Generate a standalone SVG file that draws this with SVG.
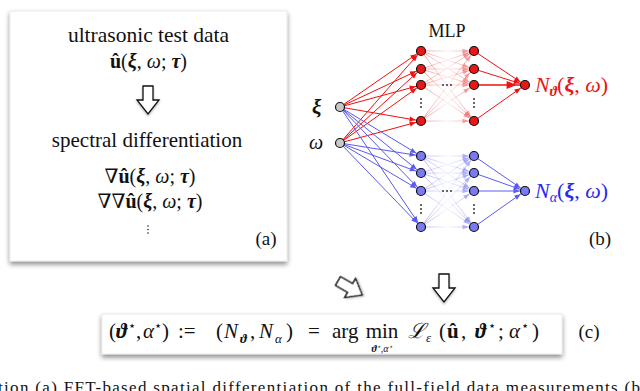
<svg xmlns="http://www.w3.org/2000/svg" width="640" height="391" viewBox="0 0 640 391">
<style>
.t{font-family:"Liberation Serif","DejaVu Serif",serif;fill:#111}
.m{font-family:"Liberation Serif","DejaVu Serif",serif;fill:#111}
.b{font-weight:bold}
.i{font-style:italic}
.bi{font-weight:bold;font-style:italic}
.er{stroke:#ee1111;stroke-width:1;fill:none}
.eb{stroke:#5a5af0;stroke-width:1;fill:none}
.fr{stroke:url(#gr);stroke-width:1;fill:none}
.fb{stroke:url(#gb);stroke-width:1;fill:none}
.nr{fill:#e81818;stroke:#111;stroke-width:1.2}
.nb{fill:#7a7af2;stroke:#111;stroke-width:1.2}
.ng{fill:#c8c8c8;stroke:#111;stroke-width:1.2}
.dot{fill:#222}
.blk{fill:#fff;stroke:#111;stroke-width:1.3;stroke-linejoin:miter}
</style>
<defs>
<filter id="sh" x="-10%" y="-10%" width="120%" height="130%">
<feDropShadow dx="0" dy="3" stdDeviation="2.5" flood-color="#000" flood-opacity="0.45"/>
</filter>
<filter id="ash" x="-30%" y="-30%" width="160%" height="160%">
<feDropShadow dx="0" dy="1.5" stdDeviation="1" flood-color="#000" flood-opacity="0.3"/>
</filter>
<marker id="ar" markerWidth="6" markerHeight="5" refX="11.5" refY="2.5" orient="auto" overflow="visible">
<path d="M0,0 L6,2.5 L0,5 Z" fill="#ee1111"/>
</marker>
<marker id="ab" markerWidth="6" markerHeight="5" refX="11.5" refY="2.5" orient="auto" overflow="visible">
<path d="M0,0 L6,2.5 L0,5 Z" fill="#5a5af0"/>
</marker>
<marker id="afr" markerWidth="6" markerHeight="5" refX="11.5" refY="2.5" orient="auto" overflow="visible">
<path d="M0,0 L6,2.5 L0,5 Z" fill="#f07070" fill-opacity="0.6"/>
</marker>
<marker id="afb" markerWidth="6" markerHeight="5" refX="11.5" refY="2.5" orient="auto" overflow="visible">
<path d="M0,0 L6,2.5 L0,5 Z" fill="#8a8af5" fill-opacity="0.6"/>
</marker>
<linearGradient id="gr" gradientUnits="userSpaceOnUse" x1="421" y1="0" x2="474" y2="0">
<stop offset="0" stop-color="#f04040" stop-opacity="0.55"/>
<stop offset="0.5" stop-color="#f04040" stop-opacity="0.08"/>
<stop offset="1" stop-color="#f04040" stop-opacity="0.55"/>
</linearGradient>
<linearGradient id="gb" gradientUnits="userSpaceOnUse" x1="421" y1="0" x2="474" y2="0">
<stop offset="0" stop-color="#6a6af2" stop-opacity="0.5"/>
<stop offset="0.5" stop-color="#6a6af2" stop-opacity="0.06"/>
<stop offset="1" stop-color="#6a6af2" stop-opacity="0.5"/>
</linearGradient>
<path id="barrow" d="M-5,0 L5,0 L5,14 L11,14 L0,28 L-11,14 L-5,14 Z"/>
</defs>
<rect width="640" height="391" fill="#fff"/>

<!-- Panel (a) -->
<g id="panel-a">
<rect x="10" y="11" width="277" height="250" fill="#fff" stroke="#e6e6e6" stroke-width="0.8" filter="url(#sh)"/>
<text class="t" x="148.5" y="42" font-size="21.5" text-anchor="middle">ultrasonic test data</text>
<text class="m" x="148.5" y="68" font-size="20" text-anchor="middle"><tspan class="b">û</tspan>(<tspan class="bi">ξ</tspan>, <tspan class="i">ω</tspan>; <tspan class="bi">τ</tspan>)</text>
<use href="#barrow" class="blk" transform="translate(148,86)" filter="url(#ash)"/>
<text class="t" x="147" y="147" font-size="21" text-anchor="middle">spectral differentiation</text>
<text class="m" x="150" y="183" font-size="20" text-anchor="middle">∇<tspan class="b">û</tspan>(<tspan class="bi">ξ</tspan>, <tspan class="i">ω</tspan>; <tspan class="bi">τ</tspan>)</text>
<text class="m" x="150" y="208" font-size="20" text-anchor="middle">∇∇<tspan class="b">û</tspan>(<tspan class="bi">ξ</tspan>, <tspan class="i">ω</tspan>; <tspan class="bi">τ</tspan>)</text>
<circle class="dot" cx="148" cy="226" r="0.8"/>
<circle class="dot" cx="148" cy="229.5" r="0.8"/>
<circle class="dot" cx="148" cy="233" r="0.8"/>
<text class="t" x="266" y="245" font-size="19" text-anchor="middle">(a)</text>
</g>

<!-- Panel (b) -->
<text class="t" x="447" y="37" font-size="18" text-anchor="middle">MLP</text>
<text class="m bi" x="312" y="114" font-size="21">ξ</text>
<text class="m i" x="309" y="149" font-size="20">ω</text>

<g id="connectors">
<g class="er" marker-end="url(#ar)">
<path d="M340,107 L421,51"/><path d="M340,107 L421,69"/><path d="M340,107 L421,85"/><path d="M340,107 L421,121"/>
<path d="M340,143 L421,51"/><path d="M340,143 L421,69"/><path d="M340,143 L421,85"/><path d="M340,143 L421,121"/>
</g>
<g class="eb" marker-end="url(#ab)">
<path d="M340,107 L421,156"/><path d="M340,107 L421,173"/><path d="M340,107 L421,191"/><path d="M340,107 L421,227"/>
<path d="M340,143 L421,156"/><path d="M340,143 L421,173"/><path d="M340,143 L421,191"/><path d="M340,143 L421,227"/>
</g>
<g class="fr" marker-end="url(#afr)">
<path d="M421,51 L474,51"/><path d="M421,51 L474,69"/><path d="M421,51 L474,85"/><path d="M421,51 L474,121"/>
<path d="M421,69 L474,51"/><path d="M421,69 L474,69"/><path d="M421,69 L474,85"/><path d="M421,69 L474,121"/>
<path d="M421,85 L474,51"/><path d="M421,85 L474,69"/><path d="M421,85 L474,85"/><path d="M421,85 L474,121"/>
<path d="M421,121 L474,51"/><path d="M421,121 L474,69"/><path d="M421,121 L474,85"/><path d="M421,121 L474,121"/>
</g>
<g class="fb" marker-end="url(#afb)">
<path d="M421,156 L474,156"/><path d="M421,156 L474,173"/><path d="M421,156 L474,191"/><path d="M421,156 L474,227"/>
<path d="M421,173 L474,156"/><path d="M421,173 L474,173"/><path d="M421,173 L474,191"/><path d="M421,173 L474,227"/>
<path d="M421,191 L474,156"/><path d="M421,191 L474,173"/><path d="M421,191 L474,191"/><path d="M421,191 L474,227"/>
<path d="M421,227 L474,156"/><path d="M421,227 L474,173"/><path d="M421,227 L474,191"/><path d="M421,227 L474,227"/>
</g>
<g class="er" marker-end="url(#ar)">
<path d="M474,51 L525,85"/><path d="M474,69 L525,85"/><path d="M474,85 L525,85" stroke-width="1.6"/><path d="M474,121 L525,85"/>
</g>
<g class="eb" marker-end="url(#ab)">
<path d="M474,156 L525,191"/><path d="M474,173 L525,191"/><path d="M474,191 L525,191"/><path d="M474,227 L525,191"/>
</g>
</g>

<g id="input-xi"><circle class="ng" cx="340" cy="107" r="4.5"/></g>
<g id="input-omega"><circle class="ng" cx="340" cy="143" r="4.5"/></g>

<g id="red-layer1">
<circle class="nr" cx="421" cy="51" r="4.5"/><circle class="nr" cx="421" cy="69" r="4.5"/>
<circle class="nr" cx="421" cy="85" r="4.5"/><circle class="nr" cx="421" cy="121" r="4.5"/>
<circle class="dot" cx="421" cy="99" r="0.9"/><circle class="dot" cx="421" cy="103" r="0.9"/><circle class="dot" cx="421" cy="107" r="0.9"/>
</g>
<g id="red-layer2">
<circle class="nr" cx="474" cy="51" r="4.5"/><circle class="nr" cx="474" cy="69" r="4.5"/>
<circle class="nr" cx="474" cy="85" r="4.5"/><circle class="nr" cx="474" cy="121" r="4.5"/>
<circle class="dot" cx="474" cy="99" r="0.9"/><circle class="dot" cx="474" cy="103" r="0.9"/><circle class="dot" cx="474" cy="107" r="0.9"/>
</g>
<g id="red-dots">
<circle class="dot" cx="443" cy="85" r="0.9"/><circle class="dot" cx="447" cy="85" r="0.9"/><circle class="dot" cx="451" cy="85" r="0.9"/>
</g>
<g id="red-output">
<circle class="nr" cx="525" cy="85" r="4.5"/>
<text class="m" x="535" y="92" font-size="22" style="fill:#e81818"><tspan class="i">N</tspan><tspan class="bi" font-size="14" dy="4">ϑ</tspan><tspan dy="-4">(</tspan><tspan class="bi">ξ</tspan>, <tspan class="i">ω</tspan>)</text>
</g>

<g id="blue-layer1">
<circle class="nb" cx="421" cy="156" r="4.5"/><circle class="nb" cx="421" cy="173" r="4.5"/>
<circle class="nb" cx="421" cy="191" r="4.5"/><circle class="nb" cx="421" cy="227" r="4.5"/>
<circle class="dot" cx="421" cy="205" r="0.9"/><circle class="dot" cx="421" cy="209" r="0.9"/><circle class="dot" cx="421" cy="213" r="0.9"/>
</g>
<g id="blue-layer2">
<circle class="nb" cx="474" cy="156" r="4.5"/><circle class="nb" cx="474" cy="173" r="4.5"/>
<circle class="nb" cx="474" cy="191" r="4.5"/><circle class="nb" cx="474" cy="227" r="4.5"/>
<circle class="dot" cx="474" cy="205" r="0.9"/><circle class="dot" cx="474" cy="209" r="0.9"/><circle class="dot" cx="474" cy="213" r="0.9"/>
</g>
<g id="blue-dots">
<circle class="dot" cx="443" cy="191" r="0.9"/><circle class="dot" cx="447" cy="191" r="0.9"/><circle class="dot" cx="451" cy="191" r="0.9"/>
</g>
<g id="blue-output">
<circle class="nb" cx="525" cy="191" r="4.5"/>
<text class="m" x="535" y="198" font-size="22" style="fill:#2a2af0"><tspan class="i">N</tspan><tspan class="i" font-size="14" dy="4">α</tspan><tspan dy="-4">(</tspan><tspan class="bi">ξ</tspan>, <tspan class="i">ω</tspan>)</text>
</g>
<text class="t" x="600" y="245" font-size="19" text-anchor="middle">(b)</text>

<!-- arrows to (c) -->
<use href="#barrow" class="blk" transform="translate(338,281) rotate(-60)" filter="url(#ash)"/>
<use href="#barrow" class="blk" transform="translate(444,274)" filter="url(#ash)"/>

<!-- Panel (c) -->
<g id="panel-c">
<rect x="102" y="314" width="460" height="40" fill="#fff" stroke="#e6e6e6" stroke-width="0.8" filter="url(#sh)"/>
<text class="m" y="338" font-size="21"><tspan x="109">(</tspan><tspan class="bi" x="116">ϑ</tspan><tspan font-size="13" x="128" dy="-8">⋆</tspan><tspan x="136" dy="8">,</tspan><tspan class="i" x="143">α</tspan><tspan font-size="13" x="154" dy="-8">⋆</tspan><tspan x="162" dy="8">)</tspan></text>
<text class="m" x="178" y="338" font-size="21">:=</text>
<text class="m" y="338" font-size="21"><tspan x="216">(</tspan><tspan class="i" x="224">N</tspan><tspan class="bi" font-size="13" x="240" dy="5">ϑ</tspan><tspan x="250" dy="-5">,</tspan><tspan class="i" x="259">N</tspan><tspan class="i" font-size="13" x="275" dy="5">α</tspan><tspan x="286" dy="-5">)</tspan></text>
<text class="m" x="308" y="338" font-size="21">=</text>
<text class="m" x="332" y="338" font-size="21">arg</text>
<text class="m" x="382" y="338" font-size="21" text-anchor="middle">min</text>
<text class="m" x="382" y="352" font-size="10" text-anchor="middle"><tspan class="bi">ϑ</tspan><tspan font-size="7" dy="-3">⋆</tspan><tspan dy="3">,</tspan><tspan class="i">α</tspan><tspan font-size="7" dy="-3">⋆</tspan></text>
<text class="m" y="338" font-size="21"><tspan class="i" x="408">ℒ</tspan><tspan class="i" font-size="13" x="426" dy="4">ε</tspan><tspan x="439" dy="-4">(</tspan><tspan class="b" x="447">û</tspan><tspan x="461">,</tspan><tspan class="bi" x="475">ϑ</tspan><tspan font-size="13" x="488" dy="-8">⋆</tspan><tspan x="498" dy="8">;</tspan><tspan class="i" x="509">α</tspan><tspan font-size="13" x="521" dy="-8">⋆</tspan><tspan x="532" dy="8">)</tspan></text>
</g>
<text class="t" x="589" y="338" font-size="19" text-anchor="middle">(c)</text>

<!-- clipped caption -->
<text class="t" x="-2" y="393" font-size="17" textLength="642" lengthAdjust="spacing">tion (a) FFT-based spatial differentiation of the full-field data measurements (b</text>
</svg>
